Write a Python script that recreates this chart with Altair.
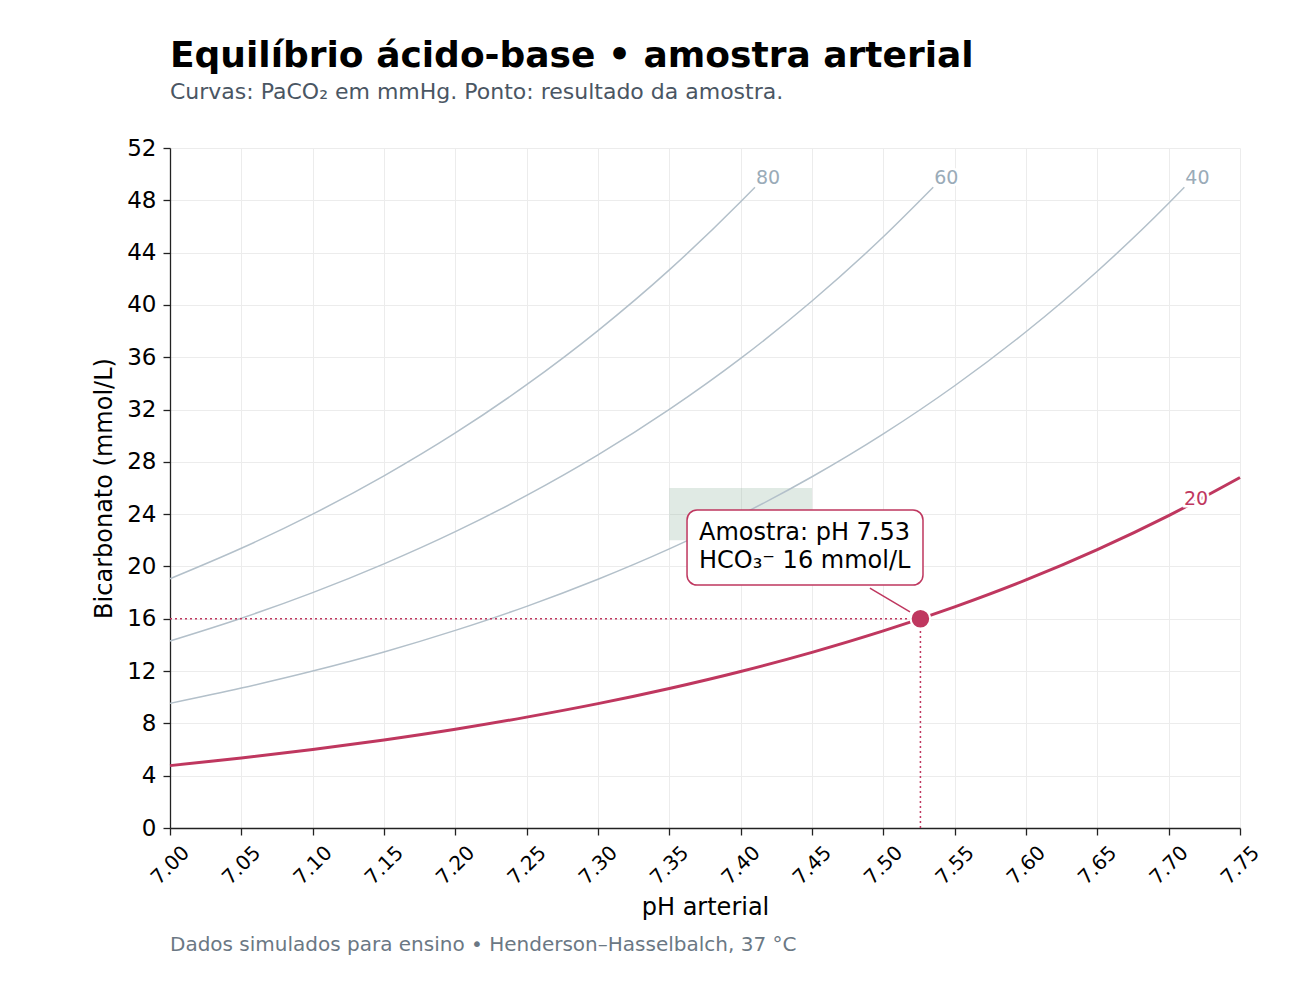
import altair as alt
import pandas as pd

FONT = "DejaVu Sans"
CRIMSON = "#bf375f"
GRAY = "#b3c0ca"
LABEL_GRAY = "#9aabb8"

# --- data -------------------------------------------------------------
ph_steps = [7.00, 7.05, 7.10, 7.15, 7.20, 7.25, 7.30, 7.35,
            7.40, 7.45, 7.50, 7.55, 7.60, 7.65, 7.70, 7.75]

ph_p20 = ph_steps
hco3_p20 = [4.77, 5.35, 6.00, 6.73, 7.55, 8.48, 9.51, 10.67,
            11.97, 13.43, 15.07, 16.91, 18.97, 21.29, 23.89, 26.80]

ph_p40 = ph_steps[:15] + [7.711]
hco3_p40 = [9.53, 10.70, 12.00, 13.46, 15.11, 16.95, 19.02, 21.34,
            23.94, 26.86, 30.14, 33.82, 37.95, 42.58, 47.77, 49.0]

ph_p60 = ph_steps[:11] + [7.535]
hco3_p60 = [14.30, 16.04, 18.00, 20.20, 22.66, 25.43, 28.53, 32.01,
            35.91, 40.30, 45.21, 49.0]

ph_p80 = ph_steps[:9] + [7.41]
hco3_p80 = [19.06, 21.39, 24.00, 26.93, 30.21, 33.90, 38.04, 42.68,
            47.89, 49.0]

curve_names = ["20", "40", "60", "80"]
label_ph = [7.71, 7.711, 7.535, 7.41]
label_hco3 = [24.5, 49.0, 49.0, 49.0]

normal_ph = [7.35, 7.45]
normal_hco3 = [22, 26]

sample_ph = 7.526
sample_hco3 = 16
sample_text = "Amostra: pH 7.53\nHCO₃⁻ 16 mmol/L"

box_ph = [7.3624, 7.5278]
box_hco3 = [18.58, 24.32]
box_text_ph = 7.3708
box_text_hco3 = 22.56
leader_ph = [7.4906, 7.5187]
leader_hco3 = [18.35, 16.52]

x_ticks = [round(7.0 + 0.05 * i, 2) for i in range(16)]
y_ticks = list(range(0, 53, 4))

# --- tables -------------------------------------------------------------
rows = []
for name, phs, vals in [("20", ph_p20, hco3_p20), ("40", ph_p40, hco3_p40),
                        ("60", ph_p60, hco3_p60), ("80", ph_p80, hco3_p80)]:
    for p, v in zip(phs, vals):
        rows.append({"ph": p, "hco3": v, "pco2": name})
curves = pd.DataFrame(rows)
gray_curves = curves[curves.pco2 != "20"]
red_curve = curves[curves.pco2 == "20"]

labels = pd.DataFrame({"ph": label_ph, "hco3": label_hco3, "pco2": curve_names,
                       "col": [CRIMSON, LABEL_GRAY, LABEL_GRAY, LABEL_GRAY]})

normal = pd.DataFrame({"x": [normal_ph[0]], "x2": [normal_ph[1]],
                       "y": [normal_hco3[0]], "y2": [normal_hco3[1]]})
sample = pd.DataFrame({"ph": [sample_ph], "hco3": [sample_hco3], "x0": [7.0], "y0": [0]})
box = pd.DataFrame({"x": [box_ph[0]], "x2": [box_ph[1]], "y": [box_hco3[0]], "y2": [box_hco3[1]]})
box_txt = pd.DataFrame({"x": [box_text_ph], "y": [box_text_hco3], "t": [sample_text]})
leader = pd.DataFrame({"x": [leader_ph[0]], "x2": [leader_ph[1]],
                       "y": [leader_hco3[0]], "y2": [leader_hco3[1]]})
footer = pd.DataFrame({"t": ["Dados simulados para ensino • Henderson–Hasselbalch, 37 °C"]})

# --- scales -------------------------------------------------------------
xs = alt.Scale(domain=[7.0, 7.75], nice=False, zero=False)
ys = alt.Scale(domain=[0, 52], nice=False)

x_axis = alt.Axis(values=x_ticks, format=".2f", labelAngle=315, labelAlign="center",
                  labelBaseline="middle", labelPadding=30, labelFontSize=20,
                  title="pH arterial", titlePadding=8)
y_axis = alt.Axis(values=y_ticks, labelFontSize=23, labelPadding=7,
                  title="Bicarbonato (mmol/L)", titlePadding=10)

X = lambda f: alt.X(f, type="quantitative", scale=xs, axis=x_axis)
Y = lambda f: alt.Y(f, type="quantitative", scale=ys, axis=y_axis)

rect_layer = alt.Chart(normal).mark_rect(color="#8fb39f", opacity=0.28).encode(
    x=X("x"), x2="x2", y=Y("y"), y2="y2")

gray_layer = alt.Chart(gray_curves).mark_line(color=GRAY, strokeWidth=1.5,
                                              interpolate="monotone").encode(
    x=X("ph"), y=Y("hco3"), detail="pco2:N")

hline = alt.Chart(sample).mark_rule(color=CRIMSON, strokeWidth=1.5, strokeDash=[2, 3]).encode(
    x=X("x0"), x2="ph", y=Y("hco3"))
vline = alt.Chart(sample).mark_rule(color=CRIMSON, strokeWidth=1.5, strokeDash=[2, 3]).encode(
    x=X("ph"), y=Y("y0"), y2="hco3")

red_layer = alt.Chart(red_curve).mark_line(color=CRIMSON, strokeWidth=3,
                                           interpolate="monotone").encode(
    x=X("ph"), y=Y("hco3"))

label_halo = alt.Chart(labels).mark_text(font=FONT, fontSize=19, align="left",
                                         baseline="alphabetic", dx=1, dy=-3,
                                         fill="white", stroke="white", strokeWidth=5).encode(
    x=X("ph"), y=Y("hco3"), text="pco2:N")
label_text = alt.Chart(labels).mark_text(font=FONT, fontSize=19, align="left",
                                         baseline="alphabetic", dx=1, dy=-3).encode(
    x=X("ph"), y=Y("hco3"), text="pco2:N", color=alt.Color("col:N", scale=None))

leader_layer = alt.Chart(leader).mark_rule(color=CRIMSON, strokeWidth=1.5).encode(
    x=X("x"), x2="x2", y=Y("y"), y2="y2")

box_layer = alt.Chart(box).mark_rect(fill="white", stroke=CRIMSON, strokeWidth=1.5,
                                     cornerRadius=10).encode(
    x=X("x"), x2="x2", y=Y("y"), y2="y2")

box_text = alt.Chart(box_txt).mark_text(font=FONT, fontSize=24, align="left",
                                        baseline="middle", lineBreak="\n",
                                        lineHeight=28, color="black").encode(
    x=X("x"), y=Y("y"), text="t:N")

point = alt.Chart(sample).mark_circle(size=380, color=CRIMSON, opacity=1,
                                      stroke="white", strokeWidth=2).encode(
    x=X("ph"), y=Y("hco3"))

footer_layer = alt.Chart(footer).mark_text(font=FONT, fontSize=20, align="left",
                                           baseline="alphabetic", color="#6b7884").encode(
    x=alt.value(0), y=alt.value(803), text="t:N")

chart = alt.layer(
    rect_layer, gray_layer, hline, vline, red_layer, label_halo, label_text,
    leader_layer, box_layer, box_text, point, footer_layer
).properties(
    width=1070, height=680,
    title=alt.TitleParams(
        text="Equilíbrio ácido-base • amostra arterial",
        subtitle="Curvas: PaCO₂ em mmHg. Ponto: resultado da amostra.",
        anchor="start", frame="group", font=FONT, fontSize=36, fontWeight="bold",
        color="black", subtitleFont=FONT, subtitleFontSize=22,
        subtitleColor="#4a5663", subtitlePadding=7, offset=33),
    autosize=alt.AutoSizeParams(type="none"),
    padding={"left": 162, "top": 140, "right": 57, "bottom": 130},
).configure_view(strokeWidth=0).configure_axis(
    labelFont=FONT, titleFont=FONT, labelColor="black", titleColor="black",
    titleFontSize=24, titleFontWeight="normal",
    domainColor="#222222", domainWidth=1.3, tickColor="#222222", tickWidth=1.3,
    tickSize=7, gridColor="#ececec", gridWidth=1,
)

chart.save("out.html", embed_options={"renderer": "svg", "actions": False})
